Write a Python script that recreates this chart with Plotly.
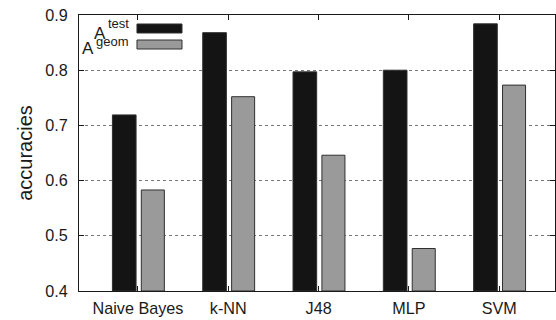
import plotly.graph_objects as go

categories = ["Naive Bayes", "k-NN", "J48", "MLP", "SVM"]
a_test = [0.719, 0.868, 0.797, 0.800, 0.884]
a_geom = [0.583, 0.752, 0.646, 0.477, 0.773]
y_ticks = [0.4, 0.5, 0.6, 0.7, 0.8, 0.9]
y_base = 0.4

FONT = "Liberation Sans, Arial, Helvetica, sans-serif"
INK = "#1a1a1a"

fig = go.Figure()
fig.add_trace(go.Bar(
    x=categories, y=[v - y_base for v in a_test], base=y_base, name="A test",
    marker=dict(color="#141414", line=dict(color="#303030", width=1)),
    width=0.262, offset=-0.283, showlegend=False,
))
fig.add_trace(go.Bar(
    x=categories, y=[v - y_base for v in a_geom], base=y_base, name="A geom",
    marker=dict(color="#9a9a9a", line=dict(color="#303030", width=1)),
    width=0.255, offset=0.037, showlegend=False,
))

fig.update_layout(
    width=556, height=320,
    margin=dict(l=79, r=1, t=15, b=29),
    paper_bgcolor="white", plot_bgcolor="white",
    barmode="overlay",
    font=dict(family=FONT, size=16, color=INK),
)
fig.update_xaxes(
    type="category", range=[-0.653, 4.618],
    showline=True, linecolor=INK, linewidth=1.2, mirror="ticks",
    ticks="inside", ticklen=5, tickcolor=INK,
    showgrid=False, tickfont=dict(size=16.2), ticklabelstandoff=2,
)
fig.update_yaxes(
    range=[0.4, 0.9], tickvals=y_ticks, ticktext=[f"{v:.1f}" for v in y_ticks],
    showline=True, linecolor=INK, linewidth=1.2, mirror="ticks",
    ticks="inside", ticklen=5, tickcolor=INK,
    showgrid=True, gridcolor="#777777", griddash="dot", gridwidth=1,
    zeroline=False, tickfont=dict(size=16.2), ticklabelstandoff=7,
    title=dict(text="accuracies", font=dict(size=20), standoff=7),
)

# custom key (swatches and labels in paper coordinates)
key_entries = [
    # (main, super, colour, swatch y1, swatch y0, main x right, main y, sup y)
    ("A", "test", "#141414", 0.9674, 0.9348, 0.0588, 0.9340, 0.9700),
    ("A", "geom", "#9a9a9a", 0.9094, 0.8768, 0.0336, 0.8800, 0.9040),
]
for main, sup, color, y1, y0, xr, ym, ys in key_entries:
    fig.add_shape(type="rect", xref="paper", yref="paper",
                  x0=0.1218, x1=0.2164, y0=y0, y1=y1,
                  fillcolor=color, line=dict(color="#303030", width=1))
    fig.add_annotation(xref="paper", yref="paper", x=xr, y=ym,
                       xanchor="right", yanchor="middle", showarrow=False,
                       text=main, borderpad=0,
                       font=dict(size=17, family=FONT, color=INK))
    fig.add_annotation(xref="paper", yref="paper", x=xr, y=ys,
                       xanchor="left", yanchor="middle", showarrow=False,
                       text=sup, borderpad=0,
                       font=dict(size=13, family=FONT, color=INK))

fig.write_html("out.html")
